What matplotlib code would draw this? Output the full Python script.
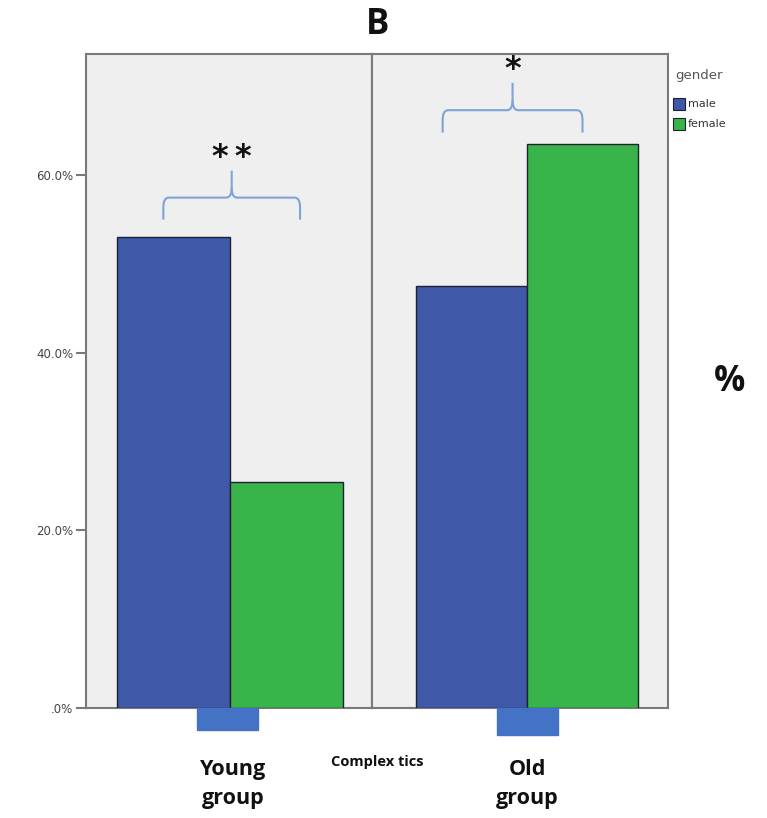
import matplotlib.pyplot as plt
import matplotlib.patches as mpatches
from matplotlib.path import Path
import numpy as np

# data
groups = ["Young\ngroup", "Old\ngroup"]
genders = ["male", "female"]
male_pct = [53.0, 47.5]
female_pct = [25.4, 63.5]
signif = ["*\u2009*", "*"]
yticks = [0, 20, 40, 60]
ytick_labels = [".0%", "20.0%", "40.0%", "60.0%"]

c_male = "#3F58A8"
c_female = "#38B44A"
c_edge = "#1c2230"
c_bg = "#EFEFEF"
c_frame = "#7a7a7a"
c_brace = "#7FA3D8"

W, H = 767, 818
fig = plt.figure(figsize=(W / 100, H / 100), dpi=100)

def fx(px):
    return px / W

def fy(py):
    return 1 - py / H

y0, ytop = 708, 54
panels = [(86, 372, 113, 31), (372, 668, 111, 44)]
axes = []
for i, (xl, xr, bw, lm) in enumerate(panels):
    ax = fig.add_axes([fx(xl), fy(y0), fx(xr - xl), (y0 - ytop) / H])
    ax.set_facecolor(c_bg)
    lo = -0.5 - lm / bw
    ax.set_xlim(lo, lo + (xr - xl) / bw)
    ax.set_ylim(0, (y0 - ytop) / 8.88)
    for s in ax.spines.values():
        s.set_color(c_frame)
        s.set_linewidth(1.5)
    ax.set_xticks([])
    axes.append(ax)

for i, ax in enumerate(axes):
    ax.bar([0, 1], [male_pct[i], female_pct[i]], width=1.0,
           color=[c_male, c_female], edgecolor=c_edge, linewidth=1.0, zorder=3)

axes[0].set_yticks(yticks)
axes[0].set_yticklabels(ytick_labels, fontsize=8.5, color="#444444")
axes[0].tick_params(axis="y", length=7, width=1.5, color=c_frame, pad=2)
axes[1].set_yticks([])

# significance braces
def brace(ax, x1, x2, yb, h, label):
    xm = (x1 + x2) / 2
    yh = yb + h * 0.45
    yt = yb + h
    r = (x2 - x1) * 0.04
    rv = h * 0.2
    verts = [(x1, yb), (x1, yh - rv), (x1, yh), (x1 + r, yh),
             (xm - r, yh), (xm, yh), (xm, yh + rv), (xm, yt)]
    codes = [Path.MOVETO, Path.LINETO, Path.CURVE3, Path.CURVE3,
             Path.LINETO, Path.CURVE3, Path.CURVE3, Path.LINETO]
    p1 = Path(verts, codes)
    verts2 = [(x2, yb), (x2, yh - rv), (x2, yh), (x2 - r, yh),
              (xm + r, yh), (xm, yh), (xm, yh + rv)]
    codes2 = [Path.MOVETO, Path.LINETO, Path.CURVE3, Path.CURVE3,
              Path.LINETO, Path.CURVE3, Path.CURVE3]
    p2 = Path(verts2, codes2)
    for p in (p1, p2):
        ax.add_patch(mpatches.PathPatch(p, fc="none", ec=c_brace, lw=1.5, zorder=4))
    ax.text(xm, yt + 0.5, label, ha="center", va="baseline", fontsize=23,
            family="DejaVu Sans", fontweight="bold", color="#111111")

brace(axes[0], -0.09, 1.12, 55.0, 5.5, signif[0])
brace(axes[1], -0.26, 1.0, 64.8, 5.6, signif[1])

# blue blocks under the axis
fig.add_artist(mpatches.Rectangle((fx(197), fy(730)), fx(61), 22 / H,
                                  transform=fig.transFigure, color="#4472C4"))
fig.add_artist(mpatches.Rectangle((fx(497), fy(735)), fx(61), 27 / H,
                                  transform=fig.transFigure, color="#4472C4"))

bold = dict(family="Open Sans", fontweight="bold", color="#111111")
fig.text(fx(378), fy(25), "B", ha="center", va="center", fontsize=25, **bold)
fig.text(fx(730), fy(382), "%", ha="center", va="center", fontsize=25, **bold)
fig.text(fx(233), fy(784), groups[0], ha="center", va="center", fontsize=15.5,
         linespacing=1.55, **bold)
fig.text(fx(527), fy(784), groups[1], ha="center", va="center", fontsize=15.5,
         linespacing=1.55, **bold)
fig.text(fx(377), fy(762), "Complex tics", ha="center", va="center",
         fontsize=10.5, **bold)

# legend
fig.text(fx(675), fy(76), "gender", ha="left", va="center", fontsize=9.5, color="#555555")
for k, (g, c) in enumerate(zip(genders, [c_male, c_female])):
    yy = 104 + k * 20
    fig.add_artist(mpatches.Rectangle((fx(673), fy(yy + 6)), fx(12), 12 / H,
                                      transform=fig.transFigure, fc=c, ec=c_edge, lw=0.8))
    fig.text(fx(688), fy(yy), g, ha="left", va="center", fontsize=8, color="#333333")

fig.savefig("out.png", dpi=100)
